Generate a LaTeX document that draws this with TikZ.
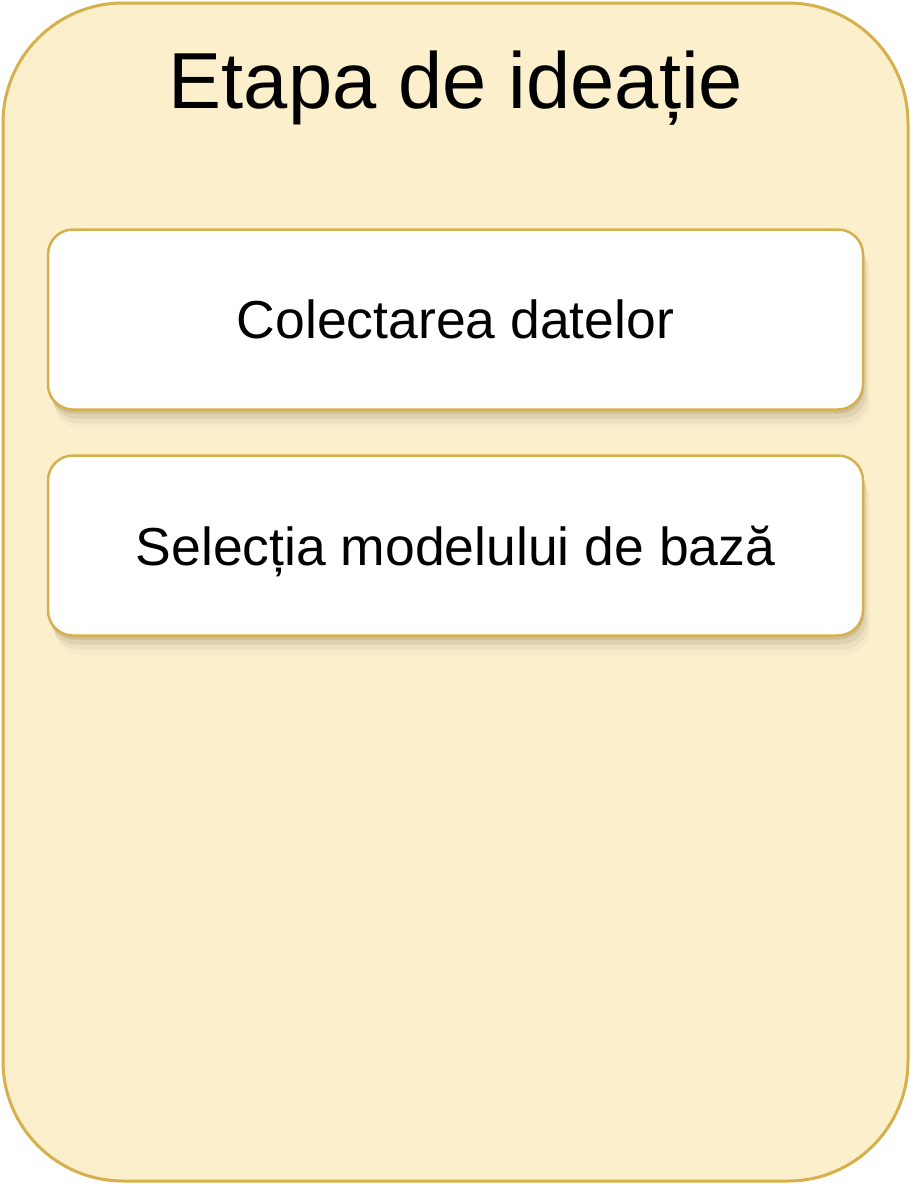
\documentclass[tikz,border=0pt]{standalone}
\usepackage{fontspec}
\setmainfont{Liberation Sans}
\usetikzlibrary{shadows}
\definecolor{stagefill}{HTML}{FCEFCB}
\definecolor{stageline}{HTML}{D6B04C}
\definecolor{shadowtan}{HTML}{8A7A5C}
\tikzset{
  stepbox/.style={draw=stageline, line width=2.5pt, fill=white, rounded corners=25pt,
    minimum width=815pt, minimum height=180pt, text depth=0pt,
    font=\fontsize{53.5}{60}\selectfont,
    drop shadow={shadow xshift=1pt, shadow yshift=-4pt, opacity=0.22, fill=shadowtan},
    drop shadow={shadow xshift=3pt, shadow yshift=-9pt, opacity=0.14, fill=shadowtan},
    drop shadow={shadow xshift=5pt, shadow yshift=-14pt, opacity=0.08, fill=shadowtan},
    drop shadow={shadow xshift=7pt, shadow yshift=-19pt, opacity=0.04, fill=shadowtan}}
}
\begin{document}
\begin{tikzpicture}[x=1pt,y=-1pt]
\useasboundingbox (0,0) rectangle (912,1184);
% outer stage
\draw[stageline, fill=stagefill, line width=3pt, rounded corners=120pt] (3,3) rectangle (908,1181);
\node[anchor=base, font=\fontsize{79.5}{90}\selectfont] (title) at (456,108) {Etapa de ideație};
% steps
\node[stepbox] (collect) at (455.5,319.5) {Colectarea datelor};
\node[stepbox] (select) at (455.5,545.5) {Selecția modelului de bază};
\end{tikzpicture}
\end{document}
